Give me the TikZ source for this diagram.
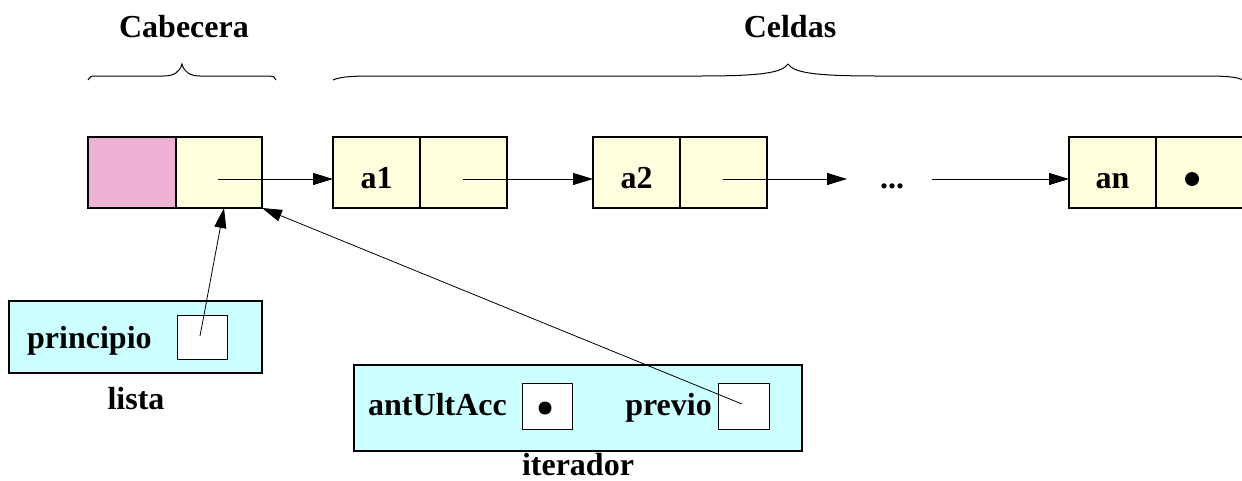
\documentclass[tikz,border=0pt]{standalone}
\usepackage{fontspec}
\setmainfont{Liberation Serif}
\usetikzlibrary{arrows.meta}
\definecolor{pinkc}{RGB}{238,178,212}
\definecolor{yelc}{RGB}{255,255,221}
\definecolor{cyanc}{RGB}{204,255,255}
\tikzset{
  cell/.style={draw, line width=1.2pt, minimum height=71pt, inner sep=0pt, outer sep=0pt},
  fld/.style={draw, fill=white, line width=1pt, minimum height=45pt, minimum width=51pt, inner sep=0pt, outer sep=0pt},
  rec/.style={draw, fill=cyanc, line width=1.2pt, inner sep=0pt, outer sep=0pt},
  lbl/.style={font=\fontsize{32}{38}\selectfont\bfseries, inner sep=0pt, anchor=base},
  ptr/.style={-{Triangle[length=20pt,width=12pt]}, line width=1pt},
  thinptr/.style={-{Triangle[length=20pt,width=12pt]}, line width=0.8pt},
  brace/.style={line width=1pt},
  dotc/.style={circle, fill=black, inner sep=0pt, minimum size=#1}
}
\begin{document}
\begin{tikzpicture}[x=1pt,y=-1pt]
\useasboundingbox (0,0) rectangle (1242,480);
% titles
\node[lbl] (tcab) at (184,37) {Cabecera};
\node[lbl] (tcel) at (790,37) {Celdas};
% braces
\draw[brace] (88,80) .. controls (89,77) and (91,76) .. (95,76) -- (163,76)
  .. controls (174,76) and (180,72) .. (182,64)
  .. controls (184,72) and (190,76) .. (200,76) -- (270,76)
  .. controls (273,76) and (275,77) .. (276,80);
\draw[brace] (333,80) .. controls (340,77) and (350,76) .. (372,76) -- (700,76)
  .. controls (760,76) and (782,73) .. (788,64)
  .. controls (794,73) and (816,76) .. (877,76) -- (1205,76)
  .. controls (1227,76) and (1237,77) .. (1243,80);
% header
\node[cell, fill=pinkc, minimum width=88pt] (hp) at (132,172.5) {};
\node[cell, fill=yelc, minimum width=86pt] (hy) at (219,172.5) {};
% cells
\node[cell, fill=yelc, minimum width=87pt] (a1k) at (376.5,172.5) {};
\node[cell, fill=yelc, minimum width=87pt] (a1n) at (463.5,172.5) {};
\node[cell, fill=yelc, minimum width=87pt] (a2k) at (636.5,172.5) {};
\node[cell, fill=yelc, minimum width=87pt] (a2n) at (723.5,172.5) {};
\node[cell, fill=yelc, minimum width=87pt] (ank) at (1112.5,172.5) {};
\node[cell, fill=yelc, minimum width=87pt] (ann) at (1199.5,172.5) {};
\node[lbl] (ta1) at (376.5,188) {a1};
\node[lbl] (ta2) at (636.5,188) {a2};
\node[lbl] (tan) at (1112.5,188) {an};
\node[dotc=14pt] (dn) at (1192,179) {};
\node[lbl] (dots) at (892,188) {...};
% horizontal pointers
\coordinate (ph) at (218,179);
\coordinate (p1) at (463,179);
\coordinate (p2) at (723,179);
\coordinate (dl) at (847,179);
\coordinate (dr) at (932,179);
\draw[ptr] (ph) -- (a1k.west |- ph);
\draw[ptr] (p1) -- (a2k.west |- p1);
\draw[ptr] (p2) -- (dl);
\draw[ptr] (dr) -- (ank.west |- dr);
% lista
\node[rec, minimum width=253pt, minimum height=72pt] (lista) at (135.5,337) {};
\node[fld, minimum width=50pt, minimum height=44pt] (pr) at (202,337) {};
\node[lbl, anchor=base west] (tpr) at (27,348) {principio};
\node[lbl] (tlista) at (136,409) {lista};
% iterador
\node[rec, minimum width=448pt, minimum height=86pt] (it) at (578,408) {};
\node[fld, minimum width=50pt, minimum height=46pt] (au) at (547,406) {};
\node[fld, minimum width=51pt, minimum height=46pt] (pv) at (743.5,406) {};
\node[lbl, anchor=base west] (tau) at (368,415) {antUltAcc};
\node[lbl, anchor=base east] (tpv) at (712,415) {previo};
\node[dotc=13pt] (da) at (545,408) {};
\node[lbl] (titer) at (578,475) {iterador};
% pointers to header
\coordinate (sp) at (200,336);
\coordinate (sv) at (742,404);
\coordinate (hyt) at (224,208);
\draw[thinptr] (sp) -- (hyt);
\draw[thinptr] (sv) -- (hy.south east);
\end{tikzpicture}
\end{document}
